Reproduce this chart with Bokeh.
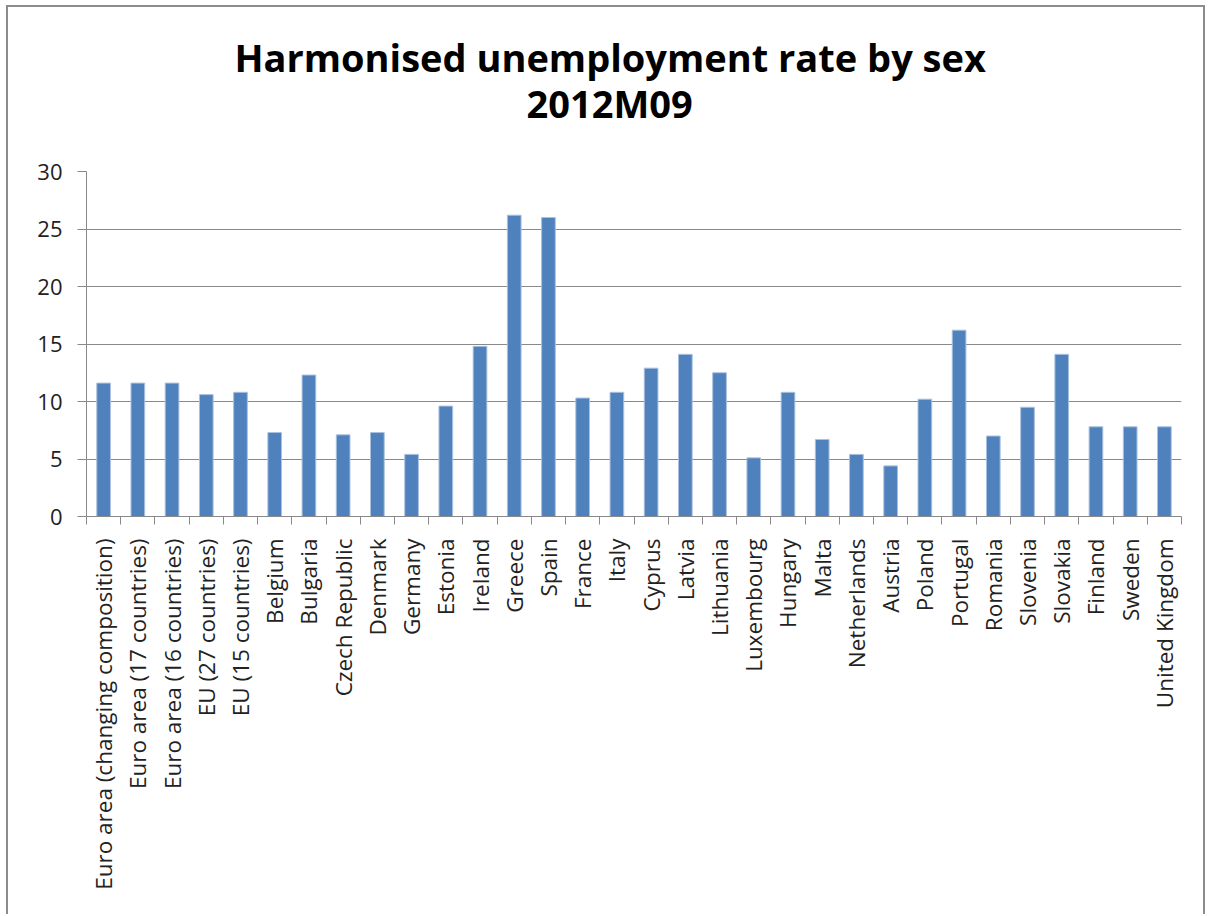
from math import pi
import numpy as np
from bokeh.plotting import figure
from bokeh.models import (ColumnDataSource, Range1d, LinearAxis, Title,
                          FixedTicker, CustomJSTickFormatter)
from bokeh.embed import file_html
from bokeh.resources import INLINE

countries = [
    "Euro area (changing composition)", "Euro area (17 countries)", "Euro area (16 countries)",
    "EU (27 countries)", "EU (15 countries)", "Belgium", "Bulgaria", "Czech Republic",
    "Denmark", "Germany", "Estonia", "Ireland", "Greece", "Spain", "France", "Italy",
    "Cyprus", "Latvia", "Lithuania", "Luxembourg", "Hungary", "Malta", "Netherlands",
    "Austria", "Poland", "Portugal", "Romania", "Slovenia", "Slovakia", "Finland",
    "Sweden", "United Kingdom",
]
rates = [
    11.6, 11.6, 11.6, 10.6, 10.8, 7.3, 12.3, 7.1,
    7.3, 5.4, 9.6, 14.8, 26.2, 26.0, 10.3, 10.8,
    12.9, 14.1, 12.5, 5.1, 10.8, 6.7, 5.4,
    4.4, 10.2, 16.2, 7.0, 9.5, 14.1, 7.8,
    7.8, 7.8,
]
y_ticks = [0, 5, 10, 15, 20, 25, 30]
title_line1 = "Harmonised unemployment rate by sex"
title_line2 = "2012M09"

GRAY = "#898989"
FONT = "Open Sans"

n = len(countries)
centers = (np.arange(n) + 0.5).tolist()
src = ColumnDataSource(data=dict(x=centers, country=countries, rate=rates))

p = figure(x_range=Range1d(0, n), y_range=Range1d(0, 30), width=1199, height=909,
           output_backend="svg", toolbar_location=None, x_axis_location=None,
           y_axis_location="left", min_border_left=78, min_border_right=26,
           min_border_top=164, min_border_bottom=400, background_fill_color="white",
           border_fill_color="white")
p.outline_line_color = None
p.styles = {"border-left": "2px solid #8c8c8c", "border-top": "2px solid #8c8c8c",
            "border-right": "2px solid #8c8c8c", "margin-left": "6px",
            "margin-top": "5px"}

p.title.text = ""
p.title.standoff = 0

t2 = Title(text=title_line2, align="left", offset=440, text_font=FONT,
           text_font_style="bold", text_font_size="38px", text_color="black",
           standoff=86)
t1 = Title(text=title_line1, align="left", offset=148, text_font=FONT,
           text_font_style="bold", text_font_size="38px", text_color="black",
           standoff=-102)
p.add_layout(t2, "above")
p.add_layout(t1, "above")

p.vbar(x="x", top="rate", width=0.4, source=src, fill_color="#4F81BD",
       line_color="#A9C1DF", line_width=1)

# y axis
ya = p.yaxis[0]
ya.ticker = FixedTicker(ticks=y_ticks)
ya.axis_line_color = GRAY
ya.major_tick_line_color = GRAY
ya.major_tick_out = 9
ya.major_tick_in = 0
ya.minor_tick_line_color = None
ya.major_label_text_font = FONT
ya.major_label_text_font_size = "22px"
ya.major_label_text_color = "#222222"
ya.major_label_standoff = 15

p.ygrid.ticker = FixedTicker(ticks=y_ticks)
p.ygrid.grid_line_color = GRAY
p.ygrid.grid_line_width = 1
p.xgrid.visible = False

# boundary tick axis (ticks between categories)
tick_axis = LinearAxis(ticker=FixedTicker(ticks=list(range(n + 1))),
                       formatter=CustomJSTickFormatter(code="return ''"),
                       axis_line_color=GRAY, major_tick_line_color=GRAY,
                       major_tick_out=8, major_tick_in=0, minor_tick_line_color=None,
                       major_label_standoff=0)
p.add_layout(tick_axis, "below")

# category label axis
cat_axis = LinearAxis(ticker=FixedTicker(ticks=centers),
                      formatter=CustomJSTickFormatter(args=dict(names=countries),
                                                      code="return names[Math.floor(tick)]"),
                      axis_line_color=None, major_tick_line_color=None,
                      minor_tick_line_color=None,
                      major_label_orientation=pi / 2,
                      major_label_text_font=FONT,
                      major_label_text_font_size="22.5px",
                      major_label_text_color="#222222",
                      major_label_standoff=8)
p.add_layout(cat_axis, "below")

open("out.html", "w").write(file_html(p, INLINE))
